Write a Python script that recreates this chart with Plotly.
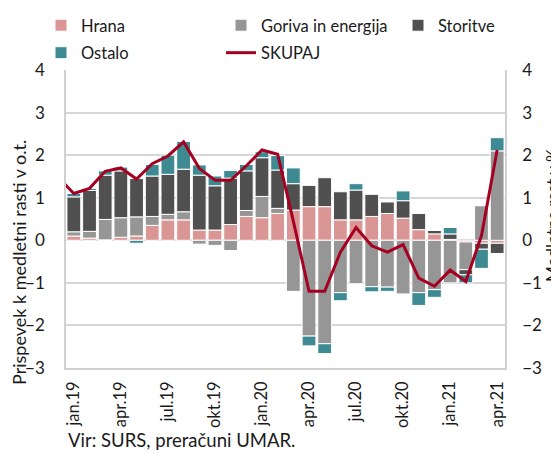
import plotly.graph_objects as go

months = ["dec.18", "jan.19", "feb.19", "mar.19", "apr.19", "maj.19", "jun.19", "jul.19", "avg.19",
          "sep.19", "okt.19", "nov.19", "dec.19", "jan.20", "feb.20", "mar.20", "apr.20",
          "maj.20", "jun.20", "jul.20", "avg.20", "sep.20", "okt.20", "nov.20", "dec.20",
          "jan.21", "feb.21", "mar.21", "apr.21"]

hrana = [None, 0.10, 0.05, 0.01, 0.07, 0.10, 0.35, 0.48, 0.48, 0.24, 0.24, 0.37, 0.56, 0.53, 0.63,
         0.71, 0.79, 0.79, 0.48, 0.48, 0.56, 0.63, 0.52, 0.25, 0.15, 0.02, -0.04, -0.07, -0.07]
goriva = [None, 0.10, 0.16, 0.48, 0.46, 0.45, 0.21, 0.13, 0.19, -0.09, -0.12, -0.24, 0.14, 0.50, 0.12,
          -1.20, -2.25, -2.43, -1.23, -1.02, -1.09, -1.10, -1.26, -1.23, -1.16, -1.00, -0.65, 0.81, 2.10]
storitve = [None, 0.82, 0.96, 1.04, 1.10, 0.90, 0.95, 0.94, 1.00, 1.29, 1.04, 1.09, 0.93, 0.91, 0.90,
            0.62, 0.50, 0.68, 0.66, 0.70, 0.52, 0.27, 0.41, 0.38, 0.08, 0.13, -0.12, -0.14, -0.24]
ostalo = [None, 0.08, 0.05, 0.10, 0.09, -0.07, 0.27, 0.45, 0.65, 0.24, 0.23, 0.18, 0.15, 0.14, 0.34,
          0.37, -0.23, -0.23, -0.19, 0.15, -0.12, -0.10, 0.23, -0.30, -0.18, 0.15, -0.19, -0.45, 0.31]
skupaj = [1.48, 1.10, 1.22, 1.62, 1.70, 1.44, 1.80, 1.98, 2.31, 1.69, 1.41, 1.41, 1.75, 2.12, 2.02,
          0.45, -1.20, -1.20, -0.28, 0.30, -0.13, -0.28, -0.10, -0.89, -1.08, -0.70, -0.97, 0.11, 2.12]

tick_labels = ["jan.19", "apr.19", "jul.19", "okt.19", "jan.20", "apr.20", "jul.20",
               "okt.20", "jan.21", "apr.21"]

x = list(range(-1, len(months) - 1))
tick_vals = [x[months.index(t)] for t in tick_labels]

colors = {"Hrana": "#DA9694", "Goriva in energija": "#969696",
          "Storitve": "#505050", "Ostalo": "#3D8A93"}
legend_of = {"Hrana": "legend", "Ostalo": "legend",
             "Goriva in energija": "legend2", "SKUPAJ": "legend2",
             "Storitve": "legend3"}

fig = go.Figure()
for name, vals in [("Hrana", hrana), ("Goriva in energija", goriva),
                   ("Storitve", storitve), ("Ostalo", ostalo)]:
    fig.add_trace(go.Bar(x=x, y=vals, name=name, marker_color=colors[name],
                         marker_line_color="white", marker_line_width=1,
                         legend=legend_of[name], legendgroup=name))

fig.add_trace(go.Scatter(x=x, y=skupaj, name="SKUPAJ", mode="lines",
                         line=dict(color="#A50021", width=3), yaxis="y2",
                         legend=legend_of["SKUPAJ"], legendgroup="SKUPAJ"))

font = "Lato, 'Open Sans', sans-serif"
W, H = 559, 453


def leg(px):
    return dict(orientation="v", x=px / W, y=1.018, xref="container", yref="container",
                xanchor="left", yanchor="top", font=dict(size=16.5), tracegroupgap=3,
                bgcolor="rgba(0,0,0,0)", itemwidth=30)


fig.update_layout(
    width=W, height=H,
    margin=dict(l=58, r=62, t=62, b=93, autoexpand=False),
    barmode="relative", bargap=0.12,
    plot_bgcolor="white", paper_bgcolor="white",
    font=dict(family=font, size=15, color="#1a1a1a"),
    showlegend=True,
    legend=leg(33), legend2=leg(213), legend3=leg(390),
    xaxis=dict(range=[-0.5, 27.5], tickvals=tick_vals, ticktext=tick_labels,
               tickangle=-90, showgrid=False, zeroline=False, showline=True,
               linecolor="#D0D0D0", linewidth=1.5, mirror=False, ticks="",
               tickfont=dict(size=16.5), ticklabelstandoff=5),
    yaxis=dict(range=[-3, 4], dtick=1, showgrid=True, gridcolor="#D6D6D6", gridwidth=1.5,
               zeroline=True, zerolinecolor="#D6D6D6", zerolinewidth=1.5,
               showline=True, linecolor="#D0D0D0", linewidth=1.5, ticks="",
               tickfont=dict(size=17), ticklabelstandoff=16),
    yaxis2=dict(range=[-3, 4], dtick=1, overlaying="y", side="right", showgrid=False,
                zeroline=False, showline=True, linecolor="#D0D0D0", linewidth=1.5,
                ticks="", tickfont=dict(size=17), ticklabelstandoff=12),
    annotations=[
        dict(text="Prispevek k medletni rasti v o.t.", xref="paper", yref="paper",
             x=0, y=0.5, xshift=-47, yshift=-44, textangle=-90, showarrow=False,
             font=dict(size=18), xanchor="center", yanchor="middle"),
        dict(text="Medletna rast v %", xref="paper", yref="paper", x=1.0, y=0.5,
             xshift=47, yshift=4, textangle=-90, showarrow=False, font=dict(size=17),
             xanchor="center", yanchor="middle"),
        dict(text="Vir: SURS, preračuni UMAR.", xref="paper", yref="paper",
             x=0, y=0, xshift=0, yshift=-72, xanchor="left", yanchor="middle",
             showarrow=False, font=dict(size=18.5)),
    ],
)

fig.write_html("out.html")
